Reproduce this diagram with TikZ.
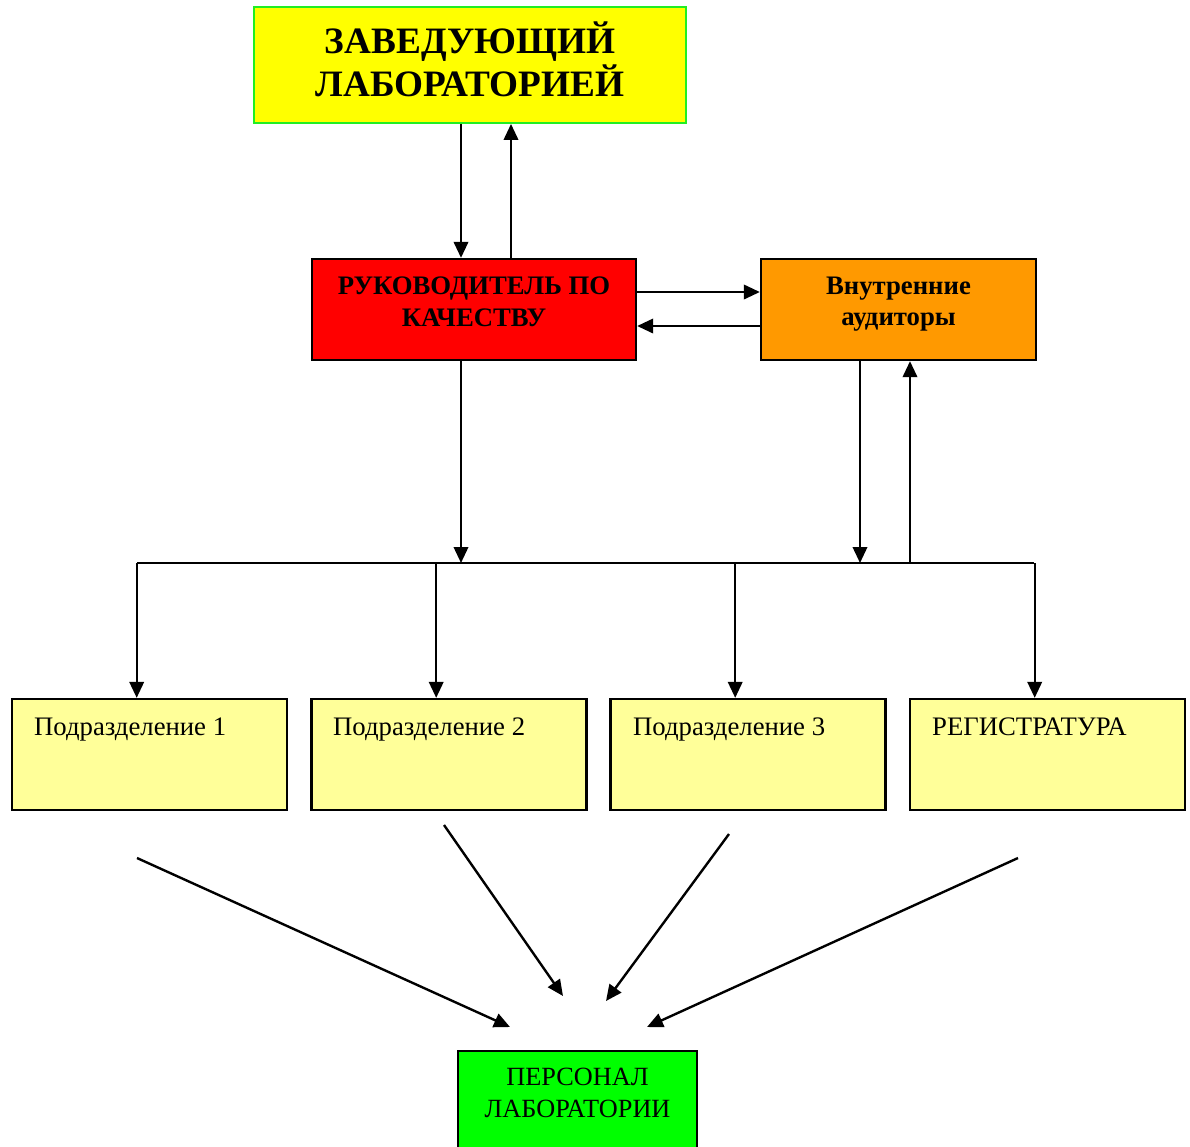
\documentclass[tikz,border=0pt]{standalone}
\usepackage{fontspec}
\setmainfont{Liberation Serif}
\usepackage{tikz}
\usetikzlibrary{arrows.meta,calc}

\definecolor{HeadFill}{HTML}{FFFF00}
\definecolor{HeadLine}{HTML}{22EE22}
\definecolor{QualFill}{HTML}{FF0000}
\definecolor{AuditFill}{HTML}{FF9900}
\definecolor{DivFill}{HTML}{FFFF99}
\definecolor{StaffFill}{HTML}{00FF00}

\begin{document}
\begin{tikzpicture}[x=0.025cm, y=-0.025cm, line width=1.7pt,
    >={Triangle[length=0.4cm, width=0.36cm]},
    box/.style={draw=black, line width=1.6pt, inner sep=0pt},
    divbox/.style={box, fill=DivFill, minimum width=6.875cm, minimum height=2.775cm},
    boldtext/.style={align=center, font=\bfseries\fontsize{19}{22.5}\selectfont},
    plaintext/.style={inner sep=0pt, font=\fontsize{19}{22}\selectfont}]

    \useasboundingbox (0,0) rectangle (1190,1146);

    % top
    \node[box, draw=HeadLine, line width=1.3pt, fill=HeadFill,
        minimum width=10.8cm, minimum height=2.9cm] (Head) at (470,65) {};
    \node[align=center, font=\bfseries\fontsize{26.5}{30.5}\selectfont]
        (HeadText) at (470,59) {ЗАВЕДУЮЩИЙ\\ЛАБОРАТОРИЕЙ};

    % middle row
    \node[box, fill=QualFill, minimum width=8.1cm, minimum height=2.525cm]
        (Quality) at (474,309.5) {};
    \node[boldtext] (QualityText) at (474,302) {РУКОВОДИТЕЛЬ ПО\\КАЧЕСТВУ};

    \node[box, fill=AuditFill, minimum width=6.875cm, minimum height=2.525cm]
        (Audit) at (898.5,309.5) {};
    \node[boldtext] (AuditText) at (898.5,304) {Внутренние\\аудиторы};

    % divisions
    \node[divbox] (Div1) at (149.5,754.5) {};
    \node[plaintext, anchor=base west] (Div1Text) at (33,735) {Подразделение 1};
    \node[divbox] (Div2) at (449,754.5) {};
    \node[plaintext, anchor=base west] (Div2Text) at (332,735) {Подразделение 2};
    \node[divbox] (Div3) at (748,754.5) {};
    \node[plaintext, anchor=base west] (Div3Text) at (632,735) {Подразделение 3};
    \node[divbox] (Reg) at (1047.5,754.5) {};
    \node[plaintext, anchor=base west] (RegText) at (931,735) {РЕГИСТРАТУРА};

    % staff
    \node[box, fill=StaffFill, minimum width=5.975cm, minimum height=2.75cm]
        (Staff) at (577.5,1106) {};
    \node[align=center, font=\fontsize{18.7}{22.5}\selectfont]
        (StaffText) at (577.5,1093) {ПЕРСОНАЛ\\ЛАБОРАТОРИИ};

    % helper coordinates
    \coordinate (colA) at (461,0);
    \coordinate (colB) at (511,0);
    \coordinate (colC) at (860,0);
    \coordinate (colD) at (910,0);
    \coordinate (rowA) at (0,292);
    \coordinate (rowB) at (0,326);
    \coordinate (busL) at (137,563);
    \coordinate (busR) at (1034,563);

    \draw[->] (Head.south -| colA) -- (Quality.north -| colA);
    \draw[->] (Quality.north -| colB) -- (Head.south -| colB);
    \draw[->] (Quality.east |- rowA) -- (Audit.west |- rowA);
    \draw[->] (Audit.west |- rowB) -- (Quality.east |- rowB);

    \draw (busL) -- (busR);
    \draw[->] (Quality.south -| colA) -- (busL -| colA);
    \draw[->] (Audit.south -| colC) -- (busL -| colC);
    \draw[->] (busL -| colD) -- (Audit.south -| colD);

    \foreach \d in {Div1,Div2,Div3,Reg} {
        \coordinate (drop) at ($(\d.north)+(-12.8,0)$);
        \draw[->] (drop |- busL) -- (drop);
    }

    % arrows to the staff
    \coordinate (from1) at (137,858);  \coordinate (to1) at (510,1027);
    \coordinate (from2) at (444,825);  \coordinate (to2) at (563,996);
    \coordinate (from3) at (729,834);  \coordinate (to3) at (606,1001);
    \coordinate (from4) at (1018,858); \coordinate (to4) at (647,1027);
    \foreach \i in {1,...,4}
        \draw[->] (from\i) -- (to\i);

\end{tikzpicture}
\end{document}
